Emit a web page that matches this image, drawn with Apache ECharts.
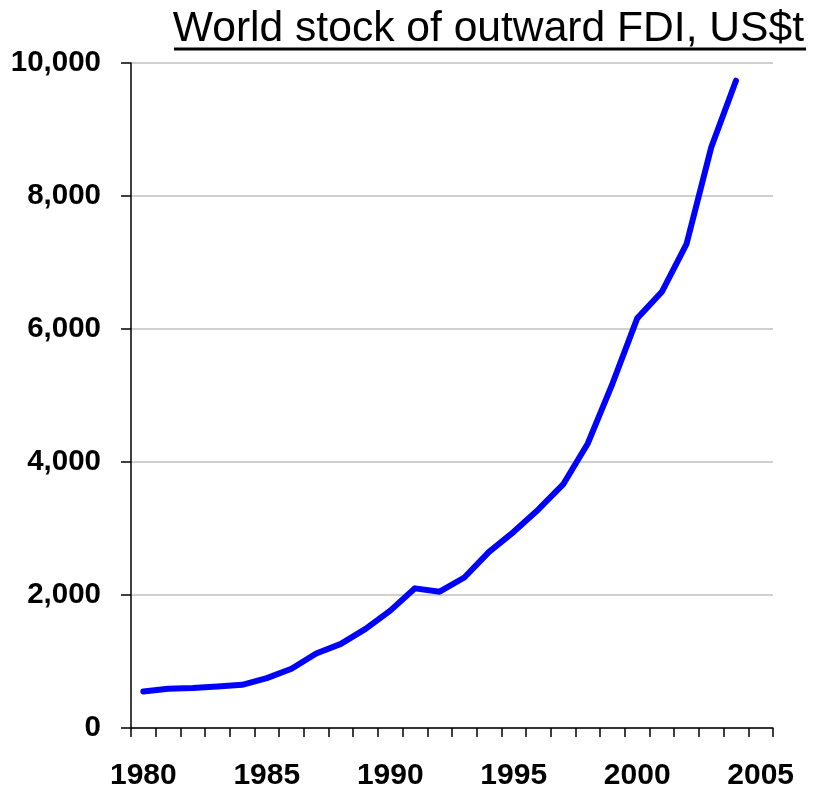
<!DOCTYPE html>
<html>
<head>
<meta charset="utf-8">
<script src="https://cdn.jsdelivr.net/npm/echarts@6/dist/echarts.min.js"></script>
<style>html,body{margin:0;padding:0;background:#fff;}#c{width:813px;height:791px;}</style>
</head>
<body>
<div id="c"></div>
<script>
const years = ['1980','1981','1982','1983','1984','1985','1986','1987','1988','1989','1990','1991','1992','1993','1994','1995','1996','1997','1998','1999','2000','2001','2002','2003','2004','2005'];
const fdiStock = [550, 590, 600, 625, 650, 750, 890, 1120, 1265, 1490, 1765, 2100, 2050, 2263, 2648, 2950, 3286, 3662, 4279, 5180, 6160, 6560, 7280, 8732, 9734];
const yTicks = { min: 0, max: 10000, interval: 2000 };
const titleText = 'World stock of outward FDI, US$t';

const font = '"Liberation Sans", Arial, sans-serif';
const chart = echarts.init(document.getElementById('c'), null, { renderer: 'canvas' });
chart.setOption({
  animation: false,
  backgroundColor: '#ffffff',
  title: {
    text: titleText,
    right: 4,
    top: 3,
    textStyle: { fontFamily: font, fontSize: 42.6, fontWeight: 'normal', color: '#000' }
  },
  graphic: [{
    type: 'rect',
    shape: { x: 174, y: 47.5, width: 632, height: 3 },
    style: { fill: '#000' }
  }],
  grid: { left: 131, right: 40, top: 63, bottom: 63 },
  xAxis: {
    type: 'category',
    data: years,
    boundaryGap: true,
    axisLine: { show: true, lineStyle: { color: '#000', width: 1.5 } },
    axisTick: { show: true, interval: 0, length: 9, lineStyle: { color: '#000', width: 1.5 } },
    axisLabel: { interval: 4, margin: 33, fontFamily: font, fontSize: 30, fontWeight: 'bold', color: '#000' },
    splitLine: { show: false }
  },
  yAxis: {
    type: 'value',
    min: yTicks.min, max: yTicks.max, interval: yTicks.interval,
    axisLine: { show: true, lineStyle: { color: '#000', width: 1.5 } },
    axisTick: { show: true, length: 10, lineStyle: { color: '#000', width: 1.5 } },
    axisLabel: {
      margin: 30, fontFamily: font, fontSize: 29.5, fontWeight: 'bold', color: '#000',
      formatter: v => v.toLocaleString('en-US')
    },
    splitLine: { show: true, lineStyle: { color: '#c0c0c0', width: 1.5 } }
  },
  series: [{
    type: 'line',
    data: fdiStock,
    showSymbol: false,
    smooth: false,
    lineStyle: { color: '#0000ff', width: 6, cap: 'round', join: 'round' }
  }]
});
</script>
</body>
</html>
